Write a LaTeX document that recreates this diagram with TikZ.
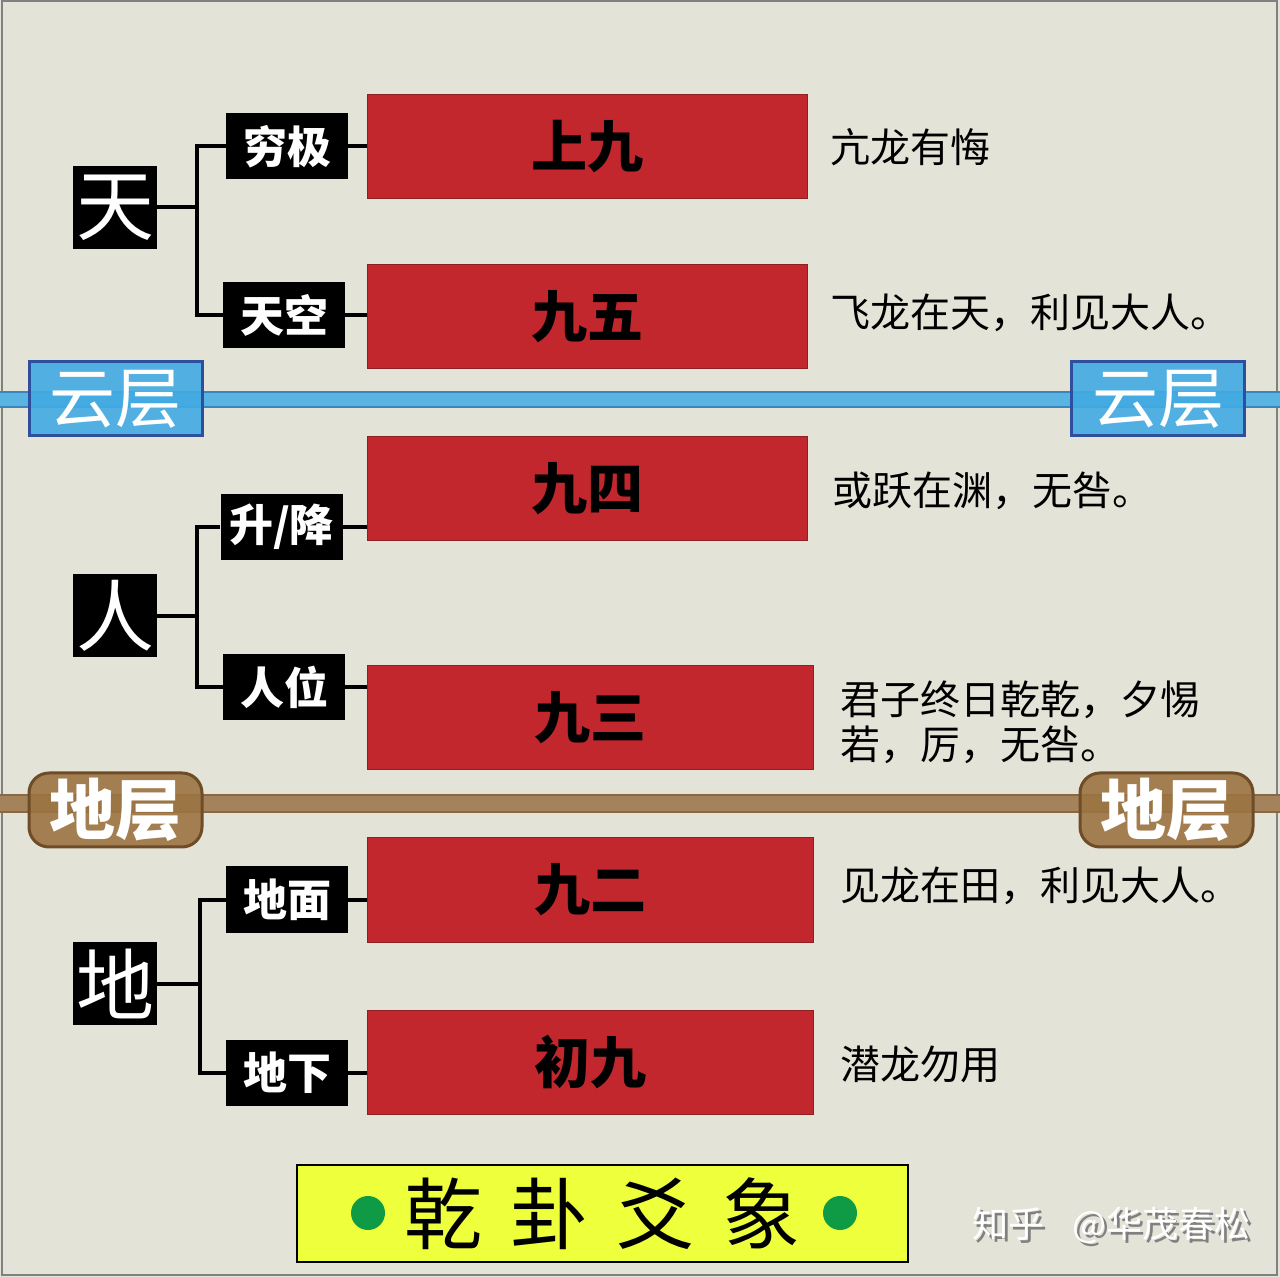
\documentclass[tikz,border=0pt]{standalone}
\usepackage{fontspec}
\newfontfamily\cjk{Noto Sans CJK SC}
\usetikzlibrary{positioning}
\definecolor{bgpaper}{HTML}{E4E3D8}
\definecolor{yaored}{HTML}{C1272D}
\definecolor{yaoedge}{HTML}{8E2024}
\definecolor{cloudfill}{HTML}{5AB4E2}
\definecolor{cloudedge}{HTML}{3A86BC}
\definecolor{cloudbox}{HTML}{42ABE3}
\definecolor{cloudrim}{HTML}{2E4F9E}
\definecolor{earthfill}{HTML}{A3825C}
\definecolor{earthedge}{HTML}{8A6942}
\definecolor{earthbox}{HTML}{9C7443}
\definecolor{earthrim}{HTML}{6E4C28}
\definecolor{titlefill}{HTML}{EEFF3C}
\definecolor{dotgreen}{HTML}{0F9A45}
\begin{document}
\begin{tikzpicture}[x=0.5pt,y=-0.5pt,
  conn/.style={line width=2pt},
  sanbox/.style={fill=black,text=white,inner sep=0pt,minimum width=42pt,minimum height=41.5pt,
    font=\cjk\fontsize{39pt}{39pt}\selectfont},
  weibox/.style={fill=black,text=white,inner sep=0pt,minimum width=61pt,minimum height=33pt,
    font=\cjk\bfseries\fontsize{22pt}{22pt}\selectfont},
  yaobox/.style={fill=yaored,draw=yaoedge,line width=0.5pt,inner sep=0pt,minimum width=220pt,
    minimum height=52pt,font=\cjk\bfseries\fontsize{28pt}{28pt}\selectfont},
  citext/.style={anchor=west,inner sep=0pt,align=left,font=\cjk\fontsize{20pt}{22.5pt}\selectfont},
  cloudtag/.style={fill=cloudbox,fill opacity=0.9,text opacity=1,draw=cloudrim,line width=1.5pt,
    text=white,inner sep=0pt,minimum width=86.5pt,minimum height=37pt,
    font=\cjk\fontsize{33pt}{33pt}\selectfont},
  earthtag/.style={fill=earthbox,fill opacity=0.9,text opacity=1,draw=earthrim,line width=1.5pt,
    rounded corners=10pt,text=white,inner sep=0pt,minimum width=86.5pt,minimum height=37pt,
    font=\cjk\bfseries\fontsize{33pt}{33pt}\selectfont},
  gdot/.style={circle,fill=dotgreen,inner sep=0pt,minimum size=17pt},
  wmark/.style={anchor=west,inner sep=0pt,font=\cjk\fontsize{18pt}{18pt}\selectfont}]
  % paper and frame
  \useasboundingbox (0,0) rectangle (1280,1277);
  \fill[bgpaper] (0,0) rectangle (1280,1277);
  \draw[gray,line width=1pt] (2,1) rectangle (1277,1275);

  % cloud layer and earth layer bands
  \draw[draw=cloudedge,fill=cloudfill,line width=1pt] (-5,392) rectangle (1285,407);
  \draw[draw=earthedge,fill=earthfill,line width=1pt] (-5,795) rectangle (1285,812);
  \node[cloudtag] (cloudl) at (115.5,399) {云层};
  \node[cloudtag] (cloudr) at (1158,399) {云层};
  \node[earthtag] (earthl) at (115.5,810) {地层};
  \node[earthtag] (earthr) at (1166.5,810) {地层};

  % heaven
  \node[sanbox] (tian) at (115,207.5) {天};
  \node[weibox] (qiongji) at (287,146.5) {穷极};
  \node[weibox] (tiankong) at (284,315.5) {天空};
  \node[yaobox] (shangjiu) at (587,147) {上九};
  \node[yaobox] (jiuwu) at (587,316.5) {九五};
  \draw[conn] (tian.east) -- ++(40,0) coordinate (tj);
  \draw[conn] (qiongji.west) -| (tj) |- (tiankong.west);
  \draw[conn] (qiongji.east) -- (qiongji.east -| shangjiu.west);
  \draw[conn] (tiankong.east) -- (tiankong.east -| jiuwu.west);
  \node[citext] (c6) at (830,147) {亢龙有悔};
  \node[citext] (c5) at (830,313) {飞龙在天，利见大人。};

  % man
  \node[sanbox] (ren) at (115,616) {人};
  \node[weibox] (shengjiang) at (281.5,527) {升/降};
  \node[weibox] (renwei) at (284,687.5) {人位};
  \node[yaobox] (jiusi) at (587,488.5) {九四};
  \node[yaobox,minimum width=223pt] (jiusan) at (590,717.5) {九三};
  \draw[conn] (ren.east) -- ++(40,0) coordinate (rj);
  \draw[conn] (shengjiang.west) -| (rj) |- (renwei.west);
  \draw[conn] (shengjiang.east) -- (shengjiang.east -| jiusi.west);
  \draw[conn] (renwei.east) -- (renwei.east -| jiusan.west);
  \node[citext] (c4) at (832,491) {或跃在渊，无咎。};
  \node[citext] (c3) at (840,722) {君子终日乾乾，夕惕\\若，厉，无咎。};

  % earth
  \node[sanbox] (di) at (115,983.5) {地};
  \node[weibox] (dimian) at (287,899.5) {地面};
  \node[weibox] (dixia) at (287,1073) {地下};
  \node[yaobox,minimum width=223pt] (jiuer) at (590,890) {九二};
  \node[yaobox,minimum width=223pt] (chujiu) at (590,1062) {初九};
  \draw[conn] (di.east) -- ++(43,0) coordinate (dj);
  \draw[conn] (dimian.west) -| (dj) |- (dixia.west);
  \draw[conn] (dimian.east) -- (dimian.east -| jiuer.west);
  \draw[conn] (dixia.east) -- (dixia.east -| chujiu.west);
  \node[citext] (c2) at (840,886) {见龙在田，利见大人。};
  \node[citext] (c1) at (840,1064) {潜龙勿用};

  % title
  \node[fill=titlefill,draw=black,line width=1pt,minimum width=305.5pt,minimum height=48.5pt,
    inner sep=0pt] (title) at (602.5,1213.5) {};
  \node[font=\cjk\fontsize{39pt}{39pt}\selectfont] (titletext) at (title.center)
    {乾\hspace{14pt}卦\hspace{14pt}爻\hspace{14pt}象};
  \node[gdot] (dotl) at (368,1213) {};
  \node[gdot] (dotr) at (840,1213) {};

  % watermark
  \node[wmark,text=gray] (wmshadow) at (975,1228) {知乎\hspace{14pt}@华茂春松};
  \node[wmark,text=white] (wm) at (972,1225) {知乎\hspace{14pt}@华茂春松};
\end{tikzpicture}
\end{document}
